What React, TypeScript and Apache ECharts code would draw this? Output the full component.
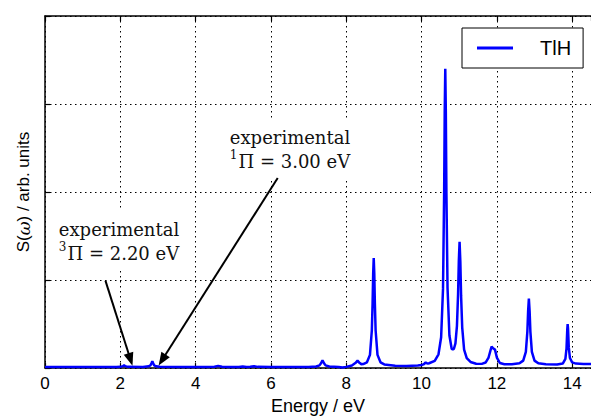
import React, { useEffect, useRef } from "react";
import * as echarts from "echarts";

// [energy (eV), S(omega) (arb. units)]
const spectrum: [number, number][] = [
  [0, 0.012], [1.0, 0.012], [1.9, 0.012], [2.0, 0.014], [2.07, 0.022], [2.1, 0.032], [2.13, 0.022], [2.2, 0.014],
  [2.6, 0.013], [2.75, 0.02], [2.8, 0.03], [2.83, 0.057], [2.85, 0.078], [2.87, 0.057], [2.9, 0.03], [2.95, 0.02],
  [3.05, 0.015], [3.5, 0.012], [4.3, 0.012], [4.5, 0.015], [4.6, 0.025], [4.7, 0.015], [4.9, 0.012], [5.15, 0.013],
  [5.25, 0.019], [5.35, 0.013], [5.45, 0.015], [5.55, 0.02], [5.65, 0.014], [6.0, 0.012], [6.5, 0.012], [7.0, 0.013],
  [7.2, 0.018], [7.29, 0.031], [7.33, 0.055], [7.37, 0.088], [7.41, 0.055], [7.45, 0.031], [7.55, 0.018], [7.8, 0.012],
  [7.9, 0.006], [8.0, 0.014], [8.15, 0.03], [8.25, 0.06], [8.3, 0.085], [8.35, 0.06], [8.4, 0.045], [8.45, 0.046],
  [8.55, 0.066], [8.63, 0.15], [8.68, 0.43], [8.7, 0.74], [8.715, 1.07], [8.73, 1.25], [8.745, 1.07], [8.76, 0.74],
  [8.78, 0.43], [8.83, 0.15], [8.91, 0.066], [9.01, 0.042], [9.3, 0.028], [9.6, 0.025], [9.9, 0.03], [10.0, 0.035],
  [10.05, 0.042], [10.08, 0.052], [10.11, 0.064], [10.14, 0.055], [10.17, 0.053], [10.2, 0.055], [10.35, 0.083],
  [10.45, 0.157], [10.52, 0.35], [10.57, 0.9], [10.6, 2.0], [10.615, 2.9], [10.63, 3.4], [10.645, 2.9], [10.66, 2.0],
  [10.69, 0.91], [10.74, 0.37], [10.8, 0.22], [10.83, 0.21], [10.86, 0.22], [10.9, 0.28], [10.94, 0.48], [10.97, 0.84],
  [10.99, 1.22], [11.01, 1.435], [11.03, 1.21], [11.05, 0.82], [11.08, 0.46], [11.13, 0.21], [11.2, 0.113], [11.3, 0.07],
  [11.45, 0.05], [11.6, 0.048], [11.7, 0.063], [11.78, 0.12], [11.83, 0.2], [11.86, 0.245], [11.9, 0.225], [11.95, 0.21],
  [12.0, 0.12], [12.08, 0.058], [12.2, 0.043], [12.4, 0.045], [12.6, 0.054], [12.7, 0.085], [12.77, 0.185], [12.81, 0.415],
  [12.83, 0.645], [12.85, 0.79], [12.87, 0.645], [12.89, 0.415], [12.93, 0.185], [13.0, 0.085], [13.1, 0.054], [13.3, 0.043],
  [13.6, 0.04], [13.75, 0.052], [13.82, 0.105], [13.85, 0.225], [13.87, 0.44], [13.88, 0.5], [13.89, 0.45], [13.91, 0.235],
  [13.94, 0.115], [14.0, 0.065], [14.1, 0.051], [14.3, 0.047], [14.5, 0.046],
];

const seriesName = "TlH";
const xAxisTitle = "Energy / eV";
const annotationLeft = "experimental\n{sup|3}Π = 2.20 eV";
const annotationRight = "experimental\n{sup|1}Π = 3.00 eV";
// arrow start / end points in data coordinates
const arrowLeft: [number, number][] = [[1.605, 0.994], [2.27, 0.098]];
const arrowRight: [number, number][] = [[6.18, 2.16], [3.11, 0.092]];

const X_MIN = 0;
const X_MAX = 14.5;
const Y_MIN = 0;
const Y_MAX = 4;

export default function App() {
  const ref = useRef<HTMLDivElement>(null);
  useEffect(() => {
    if (!ref.current) return;
    const chart = echarts.init(ref.current, undefined, { renderer: "svg" });
    const sans = "Liberation Sans, Arial, Helvetica, sans-serif";
    const serif = "DejaVu Serif, serif";
    const dotted = { color: "#000", width: 1, type: [1.5, 3.5] as any };
    const annStyle = (text: string) => ({
      text,
      fontFamily: serif,
      fontSize: 18,
      lineHeight: 24,
      fill: "#111",
      align: "center",
      verticalAlign: "middle",
      backgroundColor: "#fff",
      padding: [6, 6, 6, 6],
      rich: {
        sup: { fontFamily: serif, fontSize: 12, lineHeight: 24, verticalAlign: "top", fill: "#111", padding: [0, 1, 0, 0] },
      },
    });
    chart.setOption({
      animation: false,
      backgroundColor: "#fff",
      grid: { left: 45, right: -6, top: 16, bottom: 50, containLabel: false },
      legend: {
        show: true,
        left: 462,
        top: 28,
        padding: [10, 12, 10, 15],
        itemWidth: 36,
        itemHeight: 3,
        backgroundColor: "#fff",
        borderColor: "#000",
        borderWidth: 1,
        borderRadius: 0,
        textStyle: { fontFamily: sans, fontSize: 20, lineHeight: 20, color: "#000", padding: [0, 0, 0, 22] },
        data: [{ name: seriesName, icon: "rect" }],
      },
      xAxis: [
        {
          type: "value",
          min: X_MIN,
          max: X_MAX,
          interval: 2,
          position: "bottom",
          name: xAxisTitle,
          nameLocation: "middle",
          nameGap: 27,
          nameTextStyle: { fontFamily: sans, fontSize: 18, color: "#000" },
          axisLine: { show: true, onZero: false, lineStyle: { color: "#000", width: 1.5 } },
          axisTick: { show: true, inside: true, length: 5, lineStyle: { color: "#000", width: 1.2 } },
          axisLabel: { show: true, margin: 7, fontFamily: sans, fontSize: 17, color: "#000", showMaxLabel: false },
          splitLine: { show: true, lineStyle: dotted },
        },
        {
          type: "value",
          min: X_MIN,
          max: X_MAX,
          interval: 2,
          position: "top",
          axisLine: { show: true, onZero: false, lineStyle: { color: "#000", width: 1.5 } },
          axisTick: { show: true, inside: true, length: 5, lineStyle: { color: "#000", width: 1.2 } },
          axisLabel: { show: false },
          splitLine: { show: false },
        },
      ],
      yAxis: {
        type: "value",
        min: Y_MIN,
        max: Y_MAX,
        interval: 1,
        name: "{n|S(}{w|ω}{n|) / arb. units}",
        nameLocation: "middle",
        nameGap: 13,
        nameTextStyle: {
          rich: {
            n: { fontFamily: sans, fontSize: 17, color: "#000" },
            w: { fontFamily: serif, fontStyle: "italic", fontSize: 17, color: "#000" },
          },
        },
        axisLine: { show: true, onZero: false, lineStyle: { color: "#000", width: 1.5 } },
        axisTick: { show: true, inside: true, length: 5, lineStyle: { color: "#000", width: 1.2 } },
        axisLabel: { show: false },
        splitLine: { show: true, lineStyle: dotted },
      },
      graphic: [
        { type: "text", z: 5, x: 119, y: 241, style: annStyle(annotationLeft) },
        { type: "text", z: 5, x: 290, y: 149, style: annStyle(annotationRight) },
      ],
      series: [
        {
          name: seriesName,
          type: "line",
          data: spectrum,
          symbol: "none",
          showSymbol: false,
          smooth: false,
          clip: true,
          z: 3,
          lineStyle: { color: "#0000ff", width: 2.5 },
          itemStyle: { color: "#0000ff" },
          markLine: {
            silent: true,
            symbol: ["none", "triangle"],
            symbolSize: [10, 13],
            label: { show: false },
            lineStyle: { color: "#000", width: 2, type: "solid" },
            itemStyle: { color: "#000" },
            emphasis: { disabled: true },
            data: [
              [{ coord: arrowLeft[0] }, { coord: arrowLeft[1] }],
              [{ coord: arrowRight[0] }, { coord: arrowRight[1] }],
            ],
          },
        },
      ],
    });
    return () => chart.dispose();
  }, []);
  return (
    <div
      ref={ref}
      style={{ position: "absolute", left: 0, top: 0, width: 591, height: 420, background: "#fff" }}
    />
  );
}
